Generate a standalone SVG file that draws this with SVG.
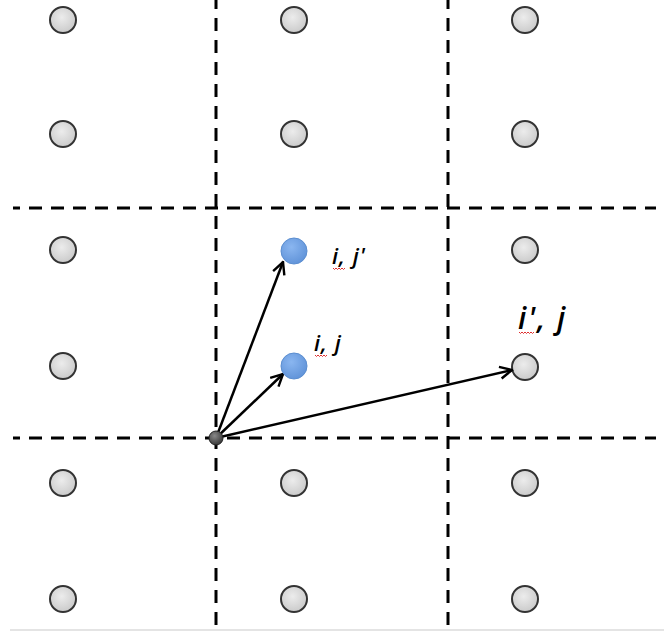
<svg xmlns="http://www.w3.org/2000/svg" width="664" height="632" viewBox="0 0 664 632">
<defs>
<radialGradient id="gg" cx="0.45" cy="0.4" r="0.65">
<stop offset="0" stop-color="#ececec"/><stop offset="1" stop-color="#c8c8c8"/>
</radialGradient>
<radialGradient id="bg" cx="0.4" cy="0.35" r="0.7">
<stop offset="0" stop-color="#8ab6f0"/><stop offset="1" stop-color="#5f92d8"/>
</radialGradient>
<radialGradient id="dg" cx="0.4" cy="0.35" r="0.7">
<stop offset="0" stop-color="#888"/><stop offset="1" stop-color="#333"/>
</radialGradient>
<marker id="ah" viewBox="0 0 10 10" refX="9" refY="5" markerWidth="6" markerHeight="6" orient="auto" markerUnits="strokeWidth">
<path d="M1,1 L9,5 L1,9" fill="none" stroke="#000" stroke-width="1.6"/>
</marker>
<style>
.pt{fill:url(#gg);stroke:#333;stroke-width:2}
.bl{fill:url(#bg);stroke:#5b8ed0;stroke-width:1}
.dash{stroke:#000;stroke-width:3;stroke-dasharray:13 9;fill:none}
.arr{stroke:#000;stroke-width:2.5;fill:none;marker-end:url(#ah)}
.lbl{font-family:"Open Sans","Liberation Sans",sans-serif;font-style:italic;font-weight:600;fill:#000}
.sq{fill:none;stroke:#e03030;stroke-width:1}
</style>
</defs>
<rect width="664" height="632" fill="#fff"/>
<line x1="10" y1="630" x2="664" y2="630" stroke="#e4e4e4" stroke-width="2"/>
<g id="grid">
<line class="dash" x1="216" y1="0" x2="216" y2="632" stroke-dashoffset="4"/>
<line class="dash" x1="448" y1="0" x2="448" y2="632" stroke-dashoffset="4"/>
<line class="dash" x1="13" y1="208" x2="656" y2="208" stroke-dashoffset="6"/>
<line class="dash" x1="13" y1="438" x2="656" y2="438" stroke-dashoffset="6"/>
</g>
<g id="points">
<circle class="pt" cx="63" cy="20" r="13"/><circle class="pt" cx="294" cy="20" r="13"/><circle class="pt" cx="525" cy="20" r="13"/>
<circle class="pt" cx="63" cy="134" r="13"/><circle class="pt" cx="294" cy="134" r="13"/><circle class="pt" cx="525" cy="134" r="13"/>
<circle class="pt" cx="63" cy="250" r="13"/><circle class="pt" cx="525" cy="250" r="13"/>
<circle class="pt" cx="63" cy="366" r="13"/><circle class="pt" cx="525" cy="367" r="13"/>
<circle class="pt" cx="63" cy="483" r="13"/><circle class="pt" cx="294" cy="483" r="13"/><circle class="pt" cx="525" cy="483" r="13"/>
<circle class="pt" cx="63" cy="599" r="13"/><circle class="pt" cx="294" cy="599" r="13"/><circle class="pt" cx="525" cy="599" r="13"/>
</g>
<g id="connectors">
<line class="arr" x1="216" y1="438" x2="283" y2="262"/>
<line class="arr" x1="216" y1="438" x2="283" y2="374"/>
<line class="arr" x1="216" y1="438" x2="512" y2="370"/>
</g>
<g id="node-ij-prime">
<circle class="bl" cx="294" cy="251" r="13"/>
<text class="lbl" x="332" y="264" font-size="22" letter-spacing="1">i, j'</text>
<path class="sq" d="M333,268 q1.5,3 3,0 q1.5,3 3,0 q1.5,3 3,0 q1.5,3 3,0"/>
</g>
<g id="node-ij">
<circle class="bl" cx="294" cy="366" r="13"/>
<text class="lbl" x="314" y="351" font-size="22" letter-spacing="1">i, j</text>
<path class="sq" d="M315,355 q1.5,3 3,0 q1.5,3 3,0 q1.5,3 3,0 q1.5,3 3,0"/>
</g>
<g id="node-origin">
<circle cx="216" cy="438" r="7" fill="url(#dg)" stroke="#222" stroke-width="1"/>
</g>
<g id="node-iprime-j">
<text class="lbl" x="518" y="329" font-size="30" letter-spacing="2">i', j</text>
<path class="sq" d="M519,332 q1.5,3 3,0 q1.5,3 3,0 q1.5,3 3,0 q1.5,3 3,0 q1.5,3 3,0"/>
</g>
</svg>
